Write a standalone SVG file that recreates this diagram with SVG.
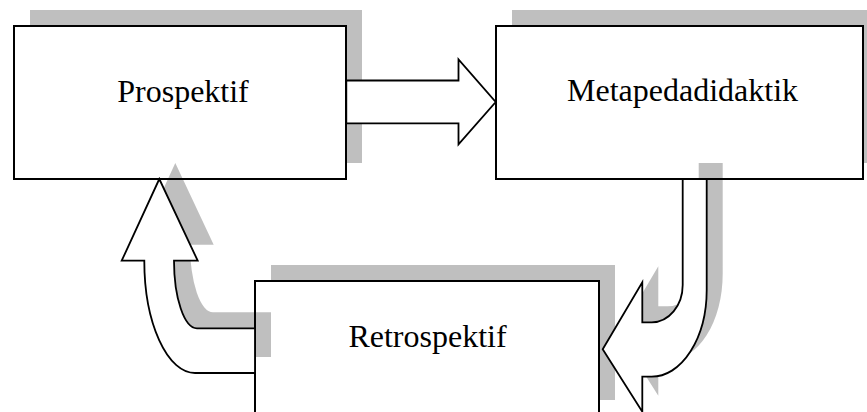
<svg xmlns="http://www.w3.org/2000/svg" width="867" height="412" viewBox="0 0 867 412">
  <style>
    .box { fill: #ffffff; stroke: #000000; stroke-width: 2; }
    .arrow { fill: #ffffff; stroke: #000000; stroke-width: 1.8; stroke-linejoin: miter; }
    .shadow { fill: #000000; fill-opacity: 0.25; stroke: none; }
    .label { font-family: "Liberation Serif", "Times New Roman", serif; font-size: 32px; fill: #000000; text-anchor: middle; }
  </style>
  <defs>
    <path id="leftArrowShape" d="M159.3,179 L197.7,260.7 L174,260.7 A23,67.6 0 0 0 197,328.3 L255,328.3 L255,373 L195,373 A50.7,112.3 0 0 1 144.3,260.7 L121.7,260.7 Z"/>
    <path id="uArrowShape" d="M682.7,179 L682.7,285 A31,37.3 0 0 1 651.7,322.3 L642.3,322.3 L642.3,282.3 L602.7,349.3 L642.3,411.7 L642.3,376.7 L651.7,376.7 A55,86.7 0 0 0 706.7,290 L706.7,179 Z"/>
  </defs>
  <rect width="867" height="412" fill="#ffffff"/>

  <g id="node-prospektif">
    <rect class="shadow" x="30" y="10" width="332" height="153"/>
    <rect class="box" x="14" y="26" width="332" height="153"/>
    <text class="label" x="183" y="102">Prospektif</text>
  </g>

  <g id="node-metapedadidaktik">
    <rect class="shadow" x="512" y="10" width="367" height="153"/>
    <rect class="box" x="496" y="26" width="367" height="153"/>
    <text class="label" x="682.5" y="101">Metapedadidaktik</text>
  </g>

  <g id="node-retrospektif">
    <rect class="shadow" x="271" y="265" width="344" height="135"/>
    <rect class="box" x="255" y="281" width="344" height="135"/>
    <text class="label" x="427.5" y="347">Retrospektif</text>
  </g>

  <g id="connectors">
    <path id="arrow-prospektif-metapedadidaktik" class="arrow" d="M346.3,80.5 L458.5,80.5 L458.5,59.3 L495.7,102 L458.5,144.3 L458.5,123.3 L346.3,123.3 Z"/>
    <g id="arrow-retrospektif-prospektif">
      <use href="#leftArrowShape" class="shadow" transform="translate(16,-16)"/>
      <use href="#leftArrowShape" class="arrow"/>
    </g>
    <g id="arrow-metapedadidaktik-retrospektif">
      <use href="#uArrowShape" class="shadow" transform="translate(16,-16)"/>
      <use href="#uArrowShape" class="arrow"/>
    </g>
  </g>
</svg>
